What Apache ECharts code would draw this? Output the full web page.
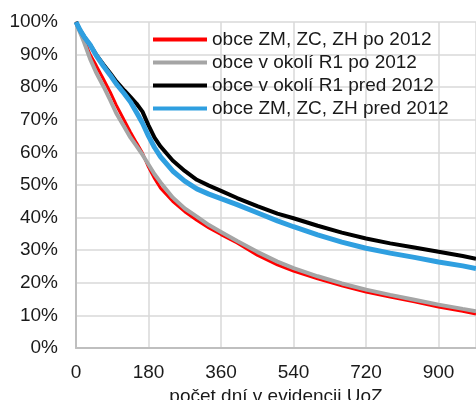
<!DOCTYPE html>
<html>
<head>
<meta charset="utf-8">
<script src="https://cdn.jsdelivr.net/npm/echarts@6/dist/echarts.min.js"></script>
<style>
  html, body { margin: 0; padding: 0; background: #fff; }
  #chart { width: 476px; height: 400px; }
</style>
</head>
<body>
<div id="chart"></div>
<script>
// počet dní v evidencii
var days = [0, 10, 20, 35, 50, 68, 85, 100, 120, 135, 150, 165, 180, 195, 210, 240, 270, 300, 330, 360, 400, 450, 500, 540, 600, 660, 720, 780, 840, 900, 960, 993];

// podiel ešte evidovaných (%)
var zmPo = [100, 97.2, 94.5, 90, 86.7, 82.5, 78.5, 74.5, 69.8, 66.3, 63, 59.8, 55.5, 52, 49, 45, 41.8, 39.2, 36.8, 34.8, 32.2, 28.5, 25.5, 23.6, 21.2, 19.1, 17.2, 15.6, 14.2, 12.6, 11.3, 10.4];
var r1Po = [100, 96.8, 93.8, 88.7, 84.5, 80.3, 76, 72, 67.8, 64.6, 62, 59.3, 56.3, 53.3, 50.8, 46.2, 42.8, 40.3, 37.7, 35.6, 32.8, 29.5, 26.5, 24.5, 22, 19.8, 17.9, 16.3, 14.8, 13.3, 12, 11.3];
var r1Pred = [100, 97.5, 95.5, 93, 90, 87, 84.3, 81.8, 79, 77, 75, 72.5, 68.3, 64.5, 61.8, 57.5, 54.3, 51.6, 49.8, 48.2, 46, 43.5, 41.2, 39.8, 37.5, 35.4, 33.6, 32.1, 30.8, 29.5, 28.2, 27.4];
var zmPred = [100, 97.5, 95.5, 93, 89.8, 86.5, 83.7, 81, 78, 75.5, 72.3, 69, 65, 61.5, 58.6, 54.3, 51.2, 48.8, 47.2, 45.8, 44, 41.5, 39, 37.2, 34.7, 32.5, 30.6, 29.1, 27.8, 26.4, 25.2, 24.4];

var names = ['obce ZM, ZC, ZH po 2012', 'obce v okolí R1 po 2012', 'obce v okolí R1 pred 2012', 'obce ZM, ZC, ZH pred 2012'];
var colors = ['#ff0000', '#a5a5a5', '#000000', '#2f9fe0'];
var widths = [3, 4, 4, 5];
var values = [zmPo, r1Po, r1Pred, zmPred];

function pairs(v) {
    return days.map(function (d, i) { return [d, v[i]]; });
}

var font = "'Liberation Sans', Arial, sans-serif";
var myChart = echarts.init(document.getElementById('chart'));

var option = {
    animation: false,
    color: colors,
    textStyle: { fontFamily: font },
    grid: { left: 76, right: 0, top: 22, bottom: 52, outerBoundsMode: 'none' },
    legend: {
        orient: 'vertical',
        left: 153,
        top: 30,
        padding: 0,
        itemWidth: 54,
        itemHeight: 4,
        itemGap: 4,
        icon: 'rect',
        textStyle: { fontSize: 19, color: '#1a1a1a', fontFamily: font },
        data: names
    },
    xAxis: {
        type: 'value',
        min: 0,
        max: 993,
        interval: 180,
        name: 'počet dní v evidencii UoZ',
        nameLocation: 'middle',
        nameGap: 35,
        nameTextStyle: { fontSize: 19, color: '#1a1a1a' },
        axisLine: { show: true, lineStyle: { color: '#bfbfbf', width: 2 } },
        axisTick: { show: false },
        axisLabel: { fontSize: 19, color: '#1a1a1a', margin: 15, showMaxLabel: false },
        splitLine: { show: true, lineStyle: { color: '#d9d9d9', width: 1.5 } }
    },
    yAxis: {
        type: 'value',
        min: 0,
        max: 100,
        interval: 10,
        axisLine: { show: true, lineStyle: { color: '#bfbfbf', width: 2 } },
        axisTick: { show: false },
        axisLabel: { fontSize: 19, color: '#1a1a1a', margin: 18, formatter: '{value}%' },
        splitLine: { show: true, lineStyle: { color: '#d9d9d9', width: 1.5 } }
    },
    series: values.map(function (v, i) {
        return {
            name: names[i],
            type: 'line',
            showSymbol: false,
            symbol: 'none',
            lineStyle: { color: colors[i], width: widths[i] },
            itemStyle: { color: colors[i] },
            data: pairs(v)
        };
    })
};

myChart.setOption(option);
</script>
</body>
</html>
